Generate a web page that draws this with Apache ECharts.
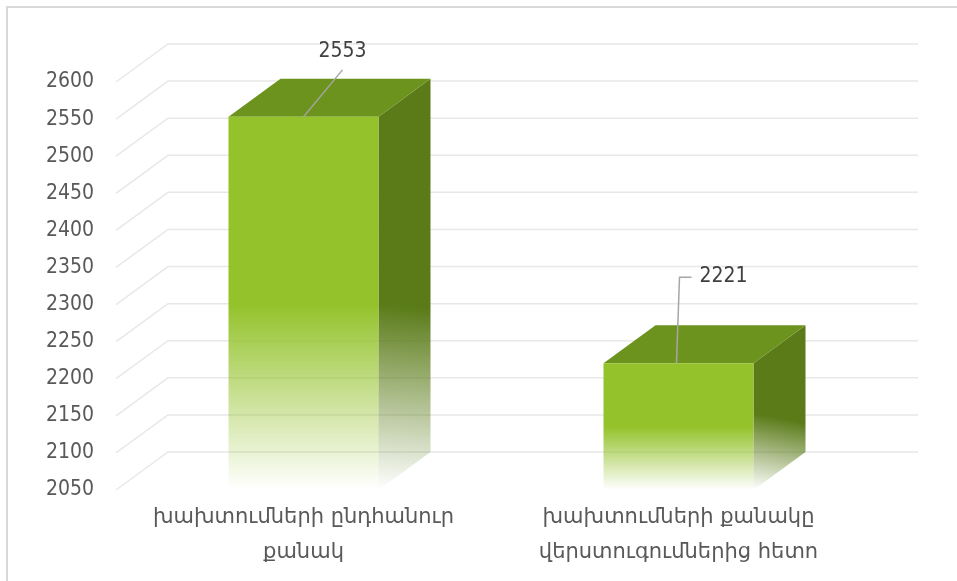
<!DOCTYPE html>
<html lang="hy">
<head>
    <meta charset="UTF-8">
    <title>խախտումներ</title>
    <style>
        html, body { margin: 0; padding: 0; background: #fff; }
        #main { width: 957px; height: 581px; }
    </style>
    <script src="https://cdn.jsdelivr.net/npm/echarts@6/dist/echarts.min.js"></script>
</head>
<body>
<div id="main"></div>
<script type="text/javascript">

    // data
    var categories = ['խախտումների ընդհանուր\nքանակ', 'խախտումների քանակը\nվերստուգումներից հետո'];
    var values = [2553, 2221];
    var yTicks = [2050, 2100, 2150, 2200, 2250, 2300, 2350, 2400, 2450, 2500, 2550, 2600];

    // 3d look (pixels)
    var DX = 52, DY = -38;
    var labelShift = [[39, -65], [45, -87]];

    var myChart = echarts.init(document.getElementById('main'));

    function wallLines(params, api) {
        var p = api.coord([0, api.value(1)]);
        var band = api.size([1, 0])[0];
        var left = p[0] - band / 2;
        var y = p[1];
        return {
            type: 'polyline',
            shape: { points: [[left, y], [left + DX, y + DY], [left + DX + band * categories.length, y + DY]] },
            style: { stroke: '#e8e8e8', lineWidth: 1.5, fill: null },
            silent: true
        };
    }

    function box(params, api) {
        var i = params.dataIndex;
        var v = api.value(1);
        var top = api.coord([i, v]);
        var base = api.coord([i, yTicks[0]]);
        var w = api.size([1, 0])[0] * 0.4;
        var x0 = top[0] - w / 2, x1 = top[0] + w / 2;
        var yT = top[1], yB = base[1];
        var ax = top[0], ay = yT;
        var sh = labelShift[i];
        var leader;
        if (i === 0) {
            leader = [[ax, ay], [ax + 39, ay - 47]];
        } else {
            leader = [[ax - 2, ay], [ax + 1, ay + sh[1] + 1], [ax + 13, ay + sh[1] + 1]];
        }
        return {
            type: 'group',
            children: [
                {
                    type: 'polygon',
                    shape: { points: [[x1, yT], [x1 + DX, yT + DY], [x1 + DX, yB + DY], [x1, yB]] },
                    style: {
                        fill: new echarts.graphic.LinearGradient(0.6, 0, 0, 1, [
                            { offset: 0, color: '#5a7b18' },
                            { offset: 0.55, color: '#5a7b18' },
                            { offset: 1, color: 'rgba(90,123,24,0)' }
                        ])
                    }
                },
                {
                    type: 'polygon',
                    shape: { points: [[x0, yT], [x0 + DX, yT + DY], [x1 + DX, yT + DY], [x1, yT]] },
                    style: { fill: '#6d931f' }
                },
                {
                    type: 'rect',
                    shape: { x: x0, y: yT, width: w, height: yB - yT },
                    style: {
                        fill: new echarts.graphic.LinearGradient(0, 0, 0, 1, [
                            { offset: 0, color: '#93c22a' },
                            { offset: 0.5, color: '#93c22a' },
                            { offset: 1, color: 'rgba(147,194,42,0)' }
                        ])
                    }
                },
                {
                    type: 'polyline',
                    shape: { points: leader },
                    style: { stroke: '#a6a6a6', lineWidth: 1.5, fill: null }
                },
                {
                    type: 'text',
                    x: ax + sh[0],
                    y: ay + sh[1],
                    style: {
                        text: String(v),
                        fill: '#404040',
                        font: '21px "DejaVu Sans Condensed"',
                        align: 'center',
                        verticalAlign: 'middle'
                    }
                }
            ]
        };
    }

    var option = {
        animation: false,
        grid: { left: 116, right: 91, top: 82, bottom: 91 },
        graphic: [{
            type: 'polyline',
            shape: { points: [[7, 581], [7, 7], [957, 7]] },
            style: { stroke: '#d9d9d9', lineWidth: 2, fill: null },
            silent: true
        }],
        xAxis: {
            type: 'category',
            data: categories,
            axisLine: { show: false },
            axisTick: { show: false },
            axisLabel: {
                interval: 0,
                hideOverlap: false,
                color: '#595959',
                fontFamily: 'DejaVu Sans',
                fontSize: 21,
                lineHeight: 35,
                margin: 10
            }
        },
        yAxis: {
            type: 'value',
            min: yTicks[0],
            max: yTicks[yTicks.length - 1],
            interval: 50,
            axisLine: { show: false },
            axisTick: { show: false },
            splitLine: { show: false },
            axisLabel: {
                color: '#595959',
                fontFamily: 'DejaVu Sans Condensed',
                fontSize: 21,
                margin: 22,
                formatter: function (v) { return String(v); }
            }
        },
        series: [
            {
                type: 'custom',
                clip: false,
                z: 1,
                renderItem: wallLines,
                data: yTicks.map(function (t) { return [0, t]; })
            },
            {
                type: 'custom',
                clip: false,
                z: 2,
                renderItem: box,
                data: values.map(function (v, i) { return [i, v]; })
            }
        ]
    };

    myChart.setOption(option);

</script>
</body>
</html>
